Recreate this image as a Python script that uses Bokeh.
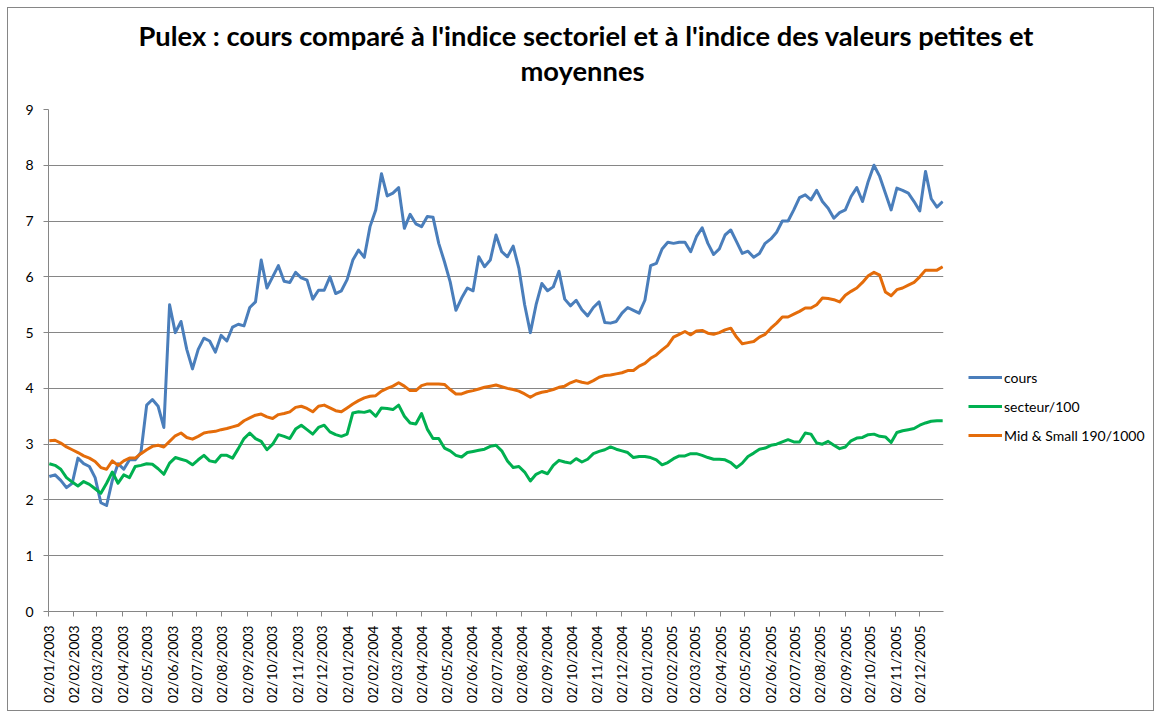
import math
import pandas as pd
from bokeh.plotting import figure
from bokeh.layouts import row, column
from bokeh.models import (Range1d, FixedTicker, DatetimeTickFormatter, Legend,
                          LegendItem, Title)
from bokeh.embed import file_html
from bokeh.resources import INLINE

# ---------------- data (weekly readings, Friday closes) ----------------
week_start = "2003-01-03"
n_weeks = 157
dates = pd.date_range(week_start, periods=n_weeks, freq="7D")

cours = [
    2.42, 2.45, 2.35, 2.22, 2.3, 2.75, 2.65, 2.6, 2.4, 1.95,
    1.9, 2.35, 2.65, 2.55, 2.72, 2.72, 2.85, 3.7, 3.8, 3.68,
    3.3, 5.5, 5.0, 5.2, 4.7, 4.35, 4.7, 4.9, 4.85, 4.65,
    4.95, 4.85, 5.1, 5.15, 5.12, 5.45, 5.55, 6.3, 5.8,
    6.0, 6.2, 5.92, 5.9, 6.08, 5.98, 5.94, 5.6, 5.76, 5.76,
    6.0, 5.7, 5.75, 5.95, 6.3, 6.48, 6.35, 6.9, 7.2, 7.85,
    7.45, 7.5, 7.6, 6.87, 7.12, 6.95, 6.9, 7.08, 7.07, 6.6,
    6.27, 5.91, 5.4, 5.62, 5.8, 5.75, 6.36, 6.18, 6.3, 6.75,
    6.45, 6.36, 6.55, 6.15, 5.5, 5.0, 5.5, 5.88, 5.75, 5.82,
    6.1, 5.6, 5.48, 5.58, 5.41, 5.3, 5.45, 5.55, 5.18, 5.17,
    5.2, 5.35, 5.45, 5.4, 5.35, 5.58, 6.2, 6.24, 6.5, 6.62,
    6.6, 6.62, 6.62, 6.45, 6.72, 6.88, 6.6, 6.4, 6.5,
    6.75, 6.84, 6.63, 6.42, 6.46, 6.35, 6.42, 6.6, 6.68, 6.8,
    7.0, 7.0, 7.2, 7.42, 7.47, 7.38, 7.55, 7.35, 7.23, 7.05,
    7.15, 7.2, 7.44, 7.6, 7.35, 7.71, 8.0, 7.8, 7.5, 7.2,
    7.59, 7.55, 7.5, 7.35, 7.18, 7.89, 7.4, 7.25, 7.35,
]

secteur = [
    2.65, 2.62, 2.55, 2.4, 2.32, 2.25, 2.33, 2.28, 2.2, 2.12,
    2.3, 2.5, 2.3, 2.45, 2.4, 2.6, 2.62, 2.65, 2.64, 2.56,
    2.46, 2.66, 2.76, 2.73, 2.7, 2.63, 2.72, 2.8, 2.7, 2.68,
    2.8, 2.8, 2.75, 2.92, 3.1, 3.2, 3.1, 3.05, 2.9,
    3.0, 3.17, 3.14, 3.1, 3.27, 3.34, 3.26, 3.18, 3.3, 3.34,
    3.22, 3.17, 3.14, 3.18, 3.56, 3.58, 3.57, 3.6, 3.5, 3.65,
    3.64, 3.62, 3.7, 3.5, 3.38, 3.36, 3.55, 3.27, 3.1, 3.1,
    2.93, 2.88, 2.8, 2.77, 2.85, 2.87, 2.89, 2.91, 2.96, 2.98,
    2.88, 2.7, 2.58, 2.6, 2.5, 2.34, 2.46, 2.51, 2.47, 2.62,
    2.71, 2.68, 2.66, 2.74, 2.68, 2.73, 2.83, 2.87, 2.9, 2.95,
    2.91, 2.88, 2.85, 2.76, 2.78, 2.78, 2.76, 2.72, 2.63, 2.67,
    2.74, 2.79, 2.79, 2.83, 2.83, 2.8, 2.76, 2.73, 2.73,
    2.72, 2.67, 2.58, 2.66, 2.78, 2.84, 2.91, 2.93, 2.98, 3.0,
    3.04, 3.08, 3.04, 3.04, 3.2, 3.18, 3.02, 3.0, 3.05, 2.98,
    2.92, 2.95, 3.06, 3.11, 3.12, 3.17, 3.18, 3.14, 3.13, 3.03,
    3.21, 3.24, 3.26, 3.28, 3.34, 3.38, 3.41, 3.42, 3.42,
]

mid_small = [
    3.06, 3.07, 3.02, 2.95, 2.9, 2.85, 2.79, 2.75, 2.69, 2.58,
    2.55, 2.7, 2.62, 2.7, 2.75, 2.75, 2.83, 2.9, 2.96, 2.98,
    2.95, 3.05, 3.15, 3.2, 3.12, 3.09, 3.14, 3.2, 3.22, 3.23,
    3.26, 3.28, 3.31, 3.34, 3.42, 3.47, 3.52, 3.54, 3.49,
    3.46, 3.53, 3.55, 3.58, 3.66, 3.68, 3.64, 3.58, 3.68, 3.7,
    3.65, 3.6, 3.58, 3.65, 3.72, 3.78, 3.83, 3.86, 3.87, 3.95,
    4.0, 4.04, 4.1, 4.04, 3.96, 3.96, 4.05, 4.08, 4.08, 4.08,
    4.07, 3.98, 3.9, 3.9, 3.94, 3.96, 3.99, 4.02, 4.04, 4.06,
    4.03, 4.0, 3.98, 3.95, 3.9, 3.84, 3.9, 3.93, 3.95, 3.98,
    4.02, 4.04, 4.1, 4.14, 4.11, 4.09, 4.14, 4.2, 4.23, 4.24,
    4.26, 4.28, 4.32, 4.32, 4.4, 4.45, 4.54, 4.6, 4.69, 4.77,
    4.92, 4.97, 5.02, 4.96, 5.03, 5.04, 4.99, 4.97, 5.0,
    5.05, 5.08, 4.92, 4.8, 4.82, 4.84, 4.92, 4.97, 5.08, 5.17,
    5.28, 5.28, 5.33, 5.38, 5.44, 5.44, 5.5, 5.62, 5.61, 5.59,
    5.55, 5.67, 5.74, 5.8, 5.9, 6.02, 6.08, 6.03, 5.73, 5.66,
    5.77, 5.8, 5.85, 5.9, 6.0, 6.12, 6.12, 6.12, 6.18,
]

series_names = ["cours", "secteur/100", "Mid & Small 190/1000"]
series_colors = ["#4a7ebb", "#00b050", "#e46c0a"]

y_ticks = [0, 1, 2, 3, 4, 5, 6, 7, 8, 9]
tick_dates = pd.date_range("2003-01-02", "2005-12-02", freq=pd.DateOffset(months=1))

title_line1 = "Pulex : cours comparé à l'indice sectoriel et  à l'indice des valeurs petites et"
title_line2 = "moyennes"

FONT = "Lato"
GRAY = "#868686"

# ---------------- title strip ----------------
tf = figure(width=1145, height=91, output_backend="svg", toolbar_location=None,
            title=None, x_range=Range1d(0, 1), y_range=Range1d(0, 1),
            x_axis_location=None, y_axis_location=None,
            min_border_left=0, min_border_right=0, min_border_top=78, min_border_bottom=0)
tf.grid.visible = False
tf.outline_line_color = None
tf.background_fill_color = "white"
tf.border_fill_color = "white"
t2 = Title(text=title_line2, align="left", offset=512, text_font=FONT,
           text_font_size="27.3px", text_font_style="bold", text_color="black",
           standoff=0)
t1 = Title(text=title_line1, align="left", offset=130, text_font=FONT,
           text_font_size="27.3px", text_font_style="bold", text_color="black",
           standoff=0)
tf.add_layout(t2, "above")
tf.add_layout(t1, "above")

# ---------------- main plot ----------------
p = figure(width=940, height=611, x_axis_type="datetime",
           x_range=Range1d(start=pd.Timestamp("2003-01-02"), end=pd.Timestamp("2005-12-31")),
           y_range=Range1d(0, 9),
           output_backend="svg", toolbar_location=None, title=None,
           min_border_left=40, min_border_right=5,
           min_border_top=10, min_border_bottom=99)
p.outline_line_color = None
p.background_fill_color = "white"
p.border_fill_color = "white"

for vals, col in zip([cours, secteur, mid_small], series_colors):
    p.line(dates, vals, line_width=3, line_color=col, line_join="round")

tick_ms = [d.timestamp() * 1000 for d in tick_dates]
p.xaxis.ticker = FixedTicker(ticks=tick_ms)
fmt = "%d/%m/%Y"
p.xaxis.formatter = DatetimeTickFormatter(
    microseconds=fmt, milliseconds=fmt, seconds=fmt, minsec=fmt, minutes=fmt,
    hourmin=fmt, hours=fmt, days=fmt, months=fmt, years=fmt)
p.xaxis.major_label_orientation = math.pi / 2
p.yaxis.ticker = FixedTicker(ticks=y_ticks)

for ax in (p.xaxis[0], p.yaxis[0]):
    ax.axis_line_color = GRAY
    ax.axis_line_width = 1
    ax.major_tick_line_color = GRAY
    ax.major_tick_out = 5
    ax.major_tick_in = 0
    ax.minor_tick_line_color = None
    ax.major_label_text_font = FONT
    ax.major_label_text_font_size = "14px"
    ax.major_label_text_color = "black"
p.yaxis.major_label_standoff = 10
p.xaxis.major_label_standoff = 9

p.xgrid.visible = False
p.ygrid.grid_line_color = GRAY
p.ygrid.grid_line_width = 1

# ---------------- legend panel ----------------
lf = figure(width=205, height=611, output_backend="svg", toolbar_location=None,
            title=None, x_range=Range1d(0, 1), y_range=Range1d(0, 1),
            x_axis_location=None, y_axis_location=None, min_border=0)
lf.grid.visible = False
lf.outline_line_color = None
lf.background_fill_color = "white"
lf.border_fill_color = "white"

legend_renderers = [lf.line(x=[0], y=[0], line_width=3, line_color=col) for col in series_colors]
legend = Legend(items=[LegendItem(label=n, renderers=[r]) for n, r in zip(series_names, legend_renderers)],
                location=(20, 166), orientation="vertical",
                glyph_width=34, glyph_height=20, label_height=20, spacing=9,
                padding=0, margin=0, label_standoff=2,
                border_line_color=None, background_fill_alpha=0,
                label_text_font=FONT, label_text_font_size="14px",
                label_text_color="black")
lf.add_layout(legend)

layout = column(tf, row(p, lf),
                styles={"border": "1px solid " + GRAY, "margin-left": "7px", "margin-top": "7px"})

open("out.html", "w").write(file_html(layout, INLINE))
